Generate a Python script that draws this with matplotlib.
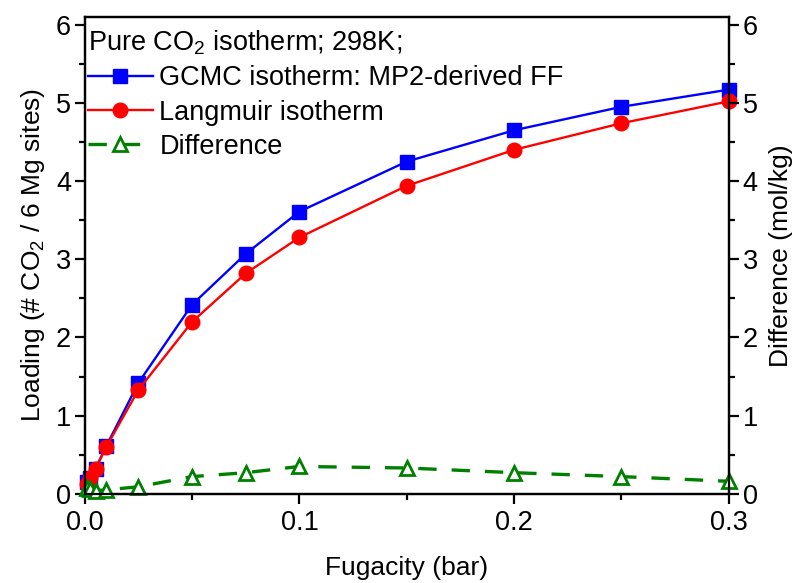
import numpy as np
import matplotlib
matplotlib.use("Agg")
import matplotlib.pyplot as plt
from matplotlib.ticker import MultipleLocator

plt.rcParams['font.family'] = ['Liberation Sans', 'DejaVu Sans']
plt.rcParams['mathtext.fontset'] = 'custom'
plt.rcParams['mathtext.rm'] = 'Liberation Sans'

# fugacity (bar)
fugacity = [0.001, 0.0025, 0.005, 0.01, 0.025, 0.05, 0.075, 0.1, 0.15, 0.2, 0.25, 0.3]
# loading, # CO2 / 6 Mg sites
gcmc = [0.15, 0.2, 0.32, 0.61, 1.42, 2.42, 3.07, 3.61, 4.25, 4.65, 4.95, 5.17]
langmuir = [0.12, 0.2, 0.32, 0.60, 1.33, 2.20, 2.82, 3.28, 3.94, 4.40, 4.74, 5.02]
# difference (mol/kg)
difference = [0.07, 0.06, 0.04, 0.05, 0.09, 0.22, 0.27, 0.35, 0.33, 0.27, 0.22, 0.16]

fig = plt.figure(figsize=(8, 5.83), dpi=100)
ax = fig.add_axes([0.106, 0.153, 0.805, 0.818])
ax2 = ax.twinx()

l1, = ax.plot(fugacity, gcmc, color='#0000ff', lw=1.7, marker='s', ms=10,
              label='GCMC isotherm: MP2-derived FF', clip_on=False, zorder=3)
l2, = ax.plot(fugacity, langmuir, color='#ff0000', lw=1.7, marker='o', ms=10.5,
              label='Langmuir isotherm', clip_on=False, zorder=4)
l3, = ax2.plot(fugacity, difference, color='#008000', lw=2.4, marker='^', ms=10,
               mfc='white', mew=2, dashes=(5.5, 4.5), label='Difference',
               clip_on=False)

for a in (ax, ax2):
    a.set_xlim(0, 0.3)
    a.set_ylim(0, 6.1)
    a.yaxis.set_major_locator(MultipleLocator(1))
    a.yaxis.set_minor_locator(MultipleLocator(0.5))
    for s in a.spines.values():
        s.set_linewidth(1.6)
    a.tick_params(which='major', direction='out', length=7, width=1.6,
                  labelsize=19.5)
    a.tick_params(which='minor', direction='out', length=4, width=1.6)

ax.xaxis.set_major_locator(MultipleLocator(0.1))
ax.xaxis.set_minor_locator(MultipleLocator(0.05))
ax.tick_params(axis='x', pad=5)
ax.tick_params(axis='y', pad=3)
ax2.tick_params(axis='y', pad=3)

ax.set_xlabel('Fugacity (bar)', fontsize=19, labelpad=14)
ax.set_ylabel('Loading (# CO$_2$ / 6 Mg sites)', fontsize=19, labelpad=6)
ax2.set_ylabel('Difference (mol/kg)', fontsize=19, labelpad=8)

leg = ax2.legend(handles=[l1, l2, l3], title='Pure CO$_2$ isotherm; 298K;',
                 loc='upper left', bbox_to_anchor=(-0.025, 1.016),
                 frameon=False, fontsize=19.5, title_fontsize=19.5,
                 handlelength=2.4, handletextpad=0.25, labelspacing=0.31,
                 borderpad=0.2, alignment='left')

fig.savefig('out.png', dpi=100)
